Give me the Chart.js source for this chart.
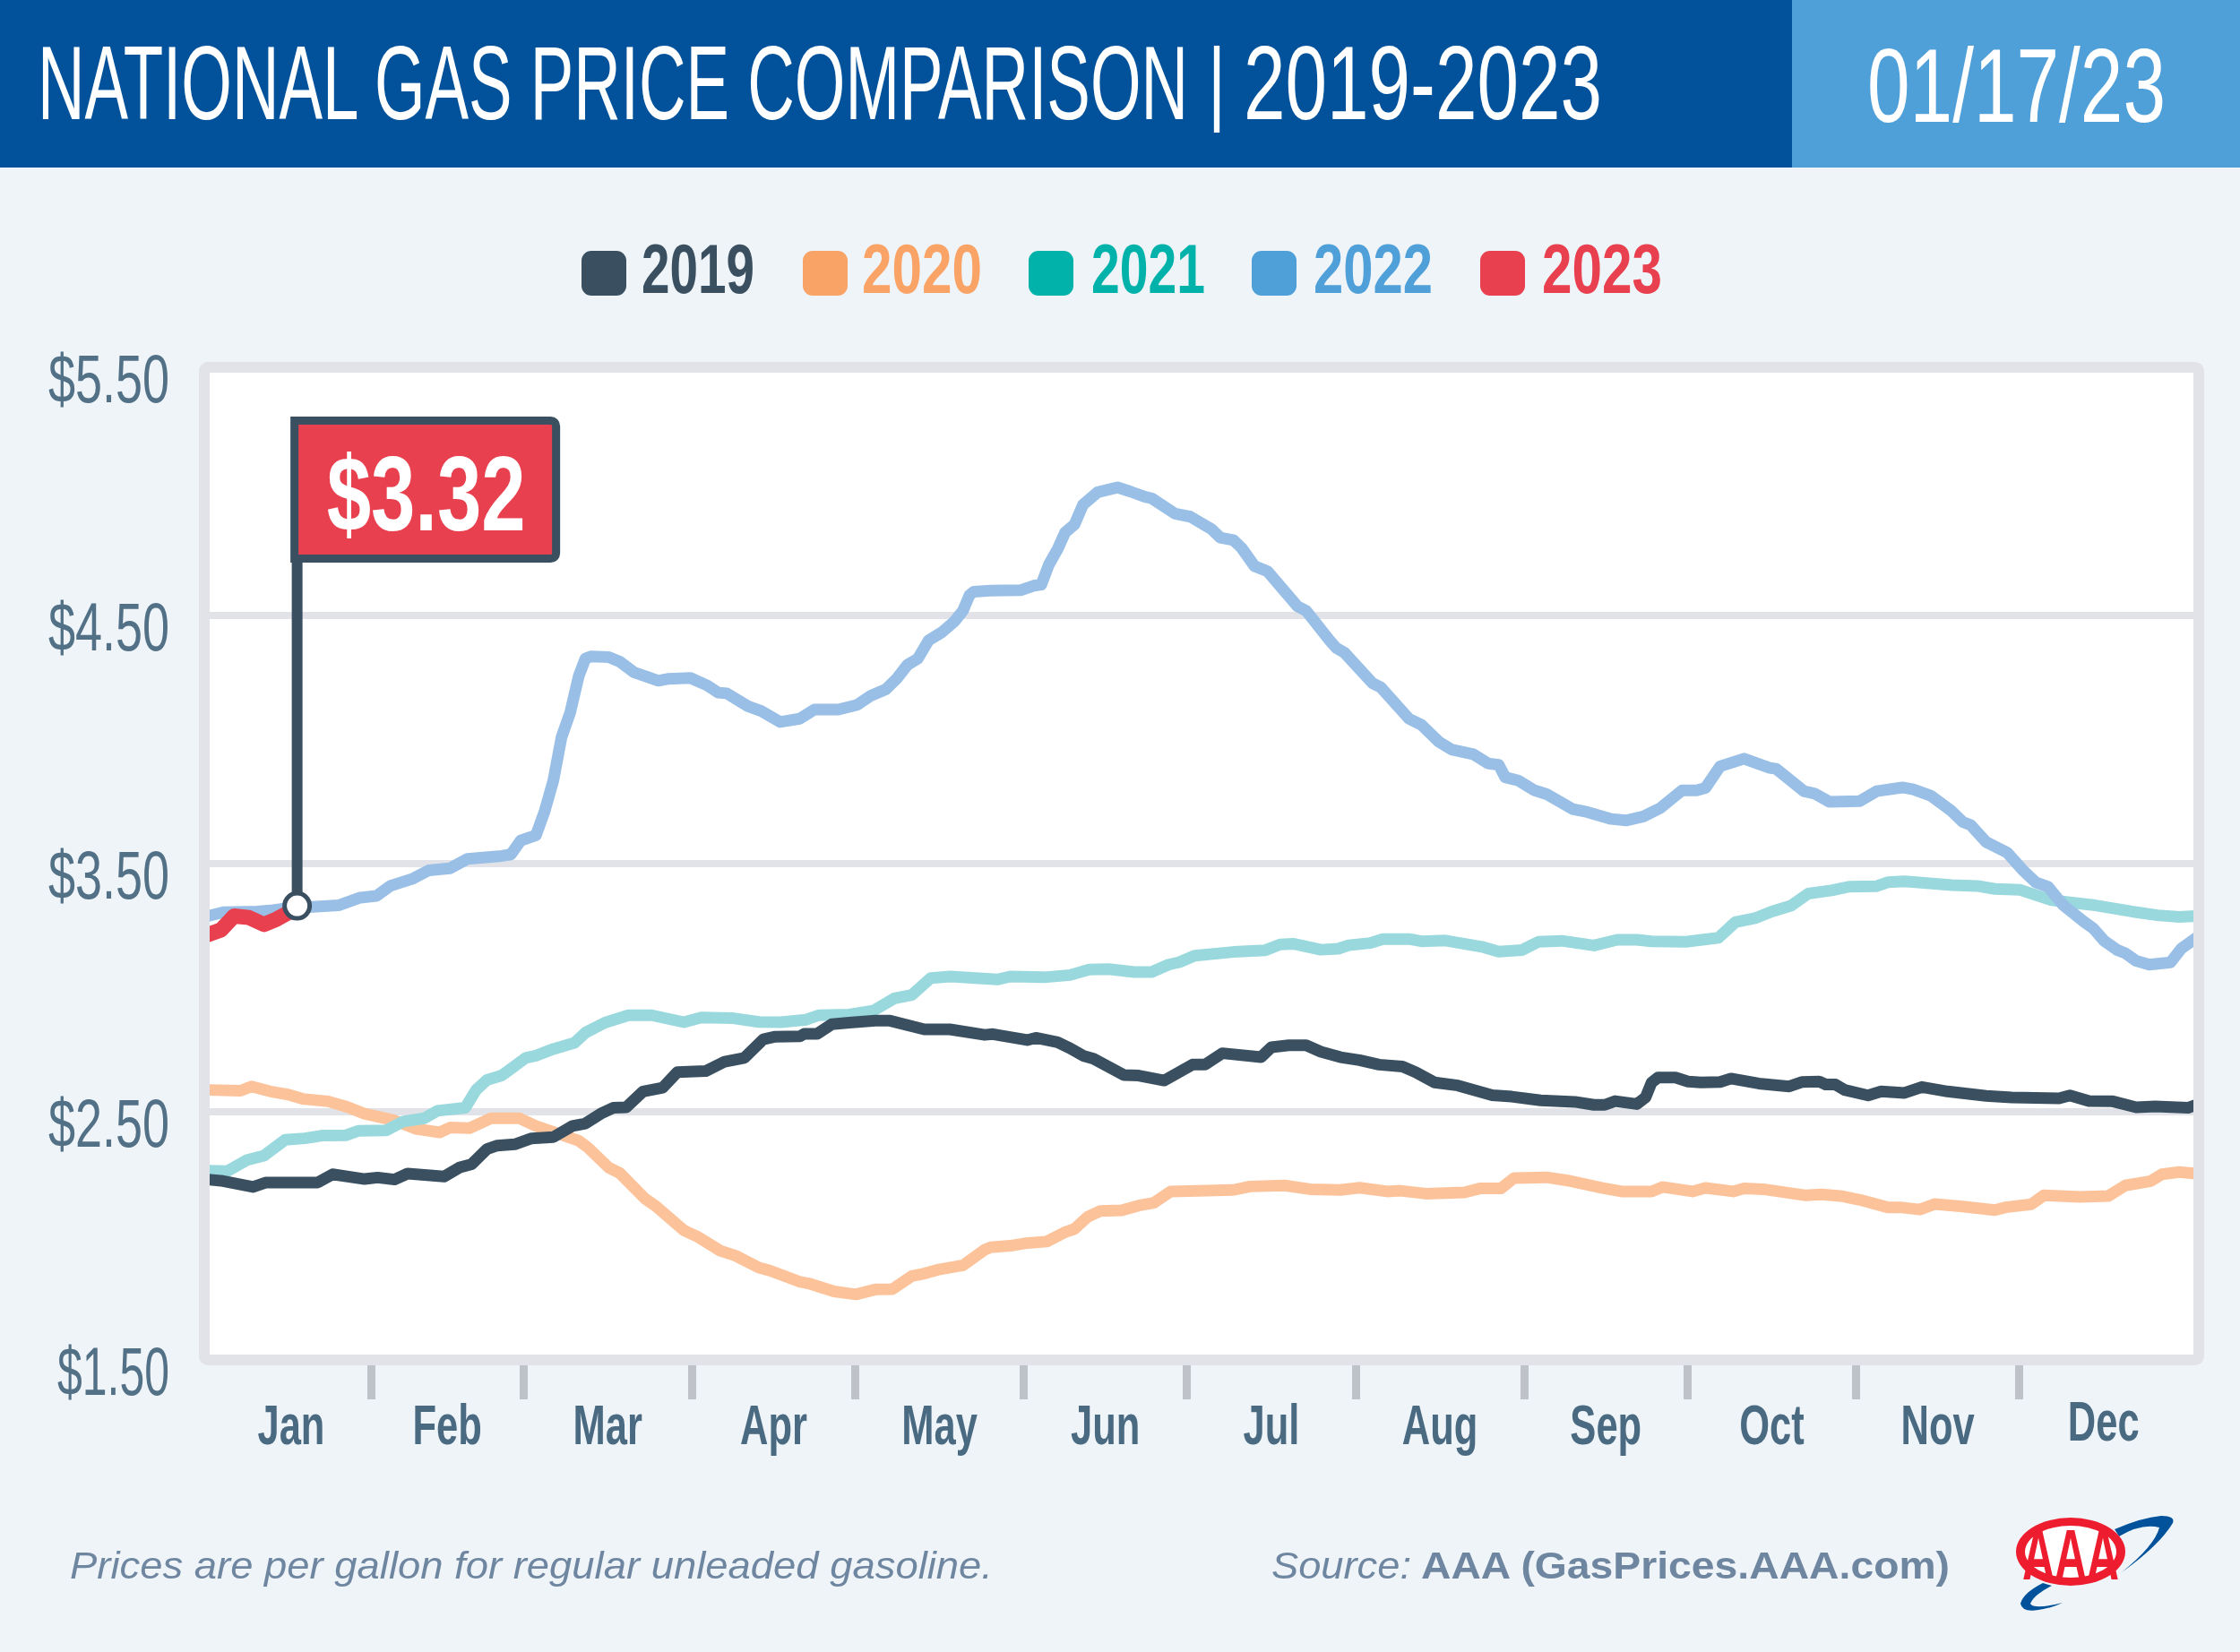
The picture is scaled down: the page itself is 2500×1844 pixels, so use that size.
<!DOCTYPE html>
<html lang="en">
  <head>
    <meta charset="UTF-8" />
    <title>National Gas Price Comparison 2019-2023</title>
    <script src="https://cdn.jsdelivr.net/npm/chart.js"></script>
    <style>
      html, body { margin: 0; padding: 0; background: #eff4f9; }
      #page { position: relative; width: 2500px; height: 1844px; overflow: hidden; }
      #headMain { position: absolute; left: 0; top: 0; width: 2000px; height: 187px; background: #01529b; }
      #headDate { position: absolute; left: 2000px; top: 0; width: 500px; height: 187px; background: #4f9fd9; }
      #priceChart { position: absolute; left: 0; top: 0; }
      .txt { position: absolute; white-space: nowrap; line-height: 1; transform-origin: left top; }
      .swatch { position: absolute; width: 50px; height: 50px; border-radius: 11px; top: 280px; }
      #logo { position: absolute; left: 0; top: 0; }
    </style>
  </head>
  <body>
    <div id="page">
      <div id="headMain"></div>
      <div id="headDate"></div>
      <canvas id="priceChart" width="2500" height="1844"></canvas>
      <svg id="logo" width="2500" height="1844" viewBox="0 0 2500 1844">
        <path fill="#01529b" d="M2360 1707 Q2390 1694 2412 1692 Q2428 1692 2425 1700 Q2410 1725 2368 1755 Q2405 1725 2410 1705 Q2390 1700 2365 1715 Z" />
        <path fill="#01529b" d="M2280 1767 Q2258 1778 2255 1790 Q2257 1800 2275 1797 Q2290 1795 2302 1789 Q2270 1797 2266 1790 Q2270 1780 2290 1770 Z" />
        <ellipse cx="2311" cy="1732" rx="61" ry="38" fill="#ed1c2e" />
        <ellipse cx="2311" cy="1732" rx="51" ry="29" fill="#ffffff" />
        <text x="2311" y="1763" text-anchor="middle" textLength="108" lengthAdjust="spacingAndGlyphs"
          font-family="Liberation Sans" font-weight="bold" font-size="80" fill="#ed1c2e">AAA</text>
      </svg>
    </div>

    <script>
      // day of year / price, one pair of lists per year
      const days2019 = [1,3.8,9.3,11.7,21.2,23.9,29.8,32.2,35.3,37.7,44.4,47.2,49.5,52.3,54.2,57.4,60.5,64.5,68,70.4,73.2,75.5,77.9,81,84.6,87.3,92.5,96,99.6,103.1,105.1,109.8,110.6,113,115.7,118.9,123.7,126.4,132.7,137.4,143.8,145.3,151.6,153.2,157.2,159.5,161.9,163.8,169.4,172.1,176.8,182,184.3,187.5,194.6,196.5,199.7,202.9,205.6,209.2,212.7,216.3,220.6,223,226.5,230.8,237.1,240.7,246,252.3,255.8,257.8,259.7,263.7,265.3,266.4,267.6,270.8,273.1,275.5,279,281,286.1,291.7,294,297.2,298.4,300.2,301.9,306.2,308.6,312.9,316.1,320.8,327.9,332.6,341.3,343.3,346.8,351.2,355.5,359,365,366.5];
      const prices2019 = [2.227,2.221,2.197,2.215,2.215,2.248,2.229,2.235,2.227,2.251,2.239,2.275,2.289,2.35,2.364,2.369,2.393,2.398,2.443,2.453,2.492,2.516,2.518,2.582,2.597,2.66,2.664,2.702,2.717,2.792,2.802,2.804,2.814,2.814,2.853,2.859,2.867,2.867,2.832,2.832,2.81,2.813,2.789,2.798,2.78,2.756,2.726,2.714,2.648,2.646,2.626,2.69,2.69,2.736,2.72,2.76,2.768,2.768,2.742,2.72,2.708,2.69,2.682,2.66,2.618,2.606,2.567,2.561,2.546,2.54,2.528,2.528,2.543,2.531,2.558,2.618,2.638,2.638,2.622,2.618,2.62,2.634,2.614,2.602,2.62,2.622,2.61,2.61,2.588,2.566,2.582,2.576,2.6,2.582,2.564,2.558,2.554,2.566,2.543,2.542,2.518,2.522,2.516,2.528];

      const days2020 = [1,7,9,12.5,15.6,18.4,23.1,26.7,29.8,35.3,39.3,43.6,45.6,49.1,53.1,58.2,61.3,69.2,70.8,74.7,76.7,81.4,83.4,88.5,90.9,95.2,98,102.3,104.3,109.8,111.8,116.1,120.1,123.7,126.8,130.4,132.7,135.1,139.8,143.8,144.9,148.5,151.2,155.2,158.7,160.3,162.7,165,169,172.1,174.9,178,189.5,192.6,198.9,203.6,209.2,212.7,217.8,220.2,224.9,232,234.8,238.7,241.1,247.1,251.5,257.4,260.9,266.4,268.4,273.9,276.3,281.4,283.4,286.9,294.8,297.6,301.1,304.7,309.8,312.1,315.7,318.4,323.2,329.5,331.5,336.2,338.5,345.2,350.4,353.5,358.2,360.2,363.4,366.5];
      const prices2020 = [2.588,2.585,2.602,2.582,2.57,2.552,2.542,2.519,2.492,2.465,2.431,2.417,2.437,2.434,2.474,2.474,2.443,2.383,2.357,2.275,2.253,2.149,2.119,2.022,1.998,1.94,1.92,1.872,1.86,1.815,1.806,1.776,1.764,1.784,1.785,1.838,1.848,1.863,1.881,1.944,1.954,1.96,1.97,1.977,2.016,2.028,2.076,2.1,2.103,2.122,2.133,2.179,2.185,2.199,2.203,2.188,2.185,2.194,2.179,2.182,2.17,2.175,2.191,2.191,2.233,2.236,2.221,2.193,2.179,2.179,2.197,2.179,2.193,2.179,2.191,2.188,2.163,2.167,2.161,2.145,2.115,2.115,2.106,2.128,2.119,2.104,2.115,2.127,2.163,2.157,2.161,2.203,2.221,2.248,2.257,2.251];

      const days2021 = [1,4.6,8.1,11.3,15.2,18.8,22,26.3,28.6,33.8,36.9,40.8,43.2,46.4,48.3,50.3,52.3,55,57,59.4,61.3,64.5,68.4,70.4,74,78.3,82.6,88.5,91.7,97.6,102.3,106.3,111,113.3,118.9,123.3,127.2,130.4,133.9,137.5,146.1,148.5,154.8,159.5,163,166.6,171.3,174.5,177.6,179.6,182.4,189.5,195.4,198.1,200.5,205.6,208.8,210.7,214.7,217,221.8,224.1,228.5,235.2,238.3,242.6,245.6,249.9,255.8,260.1,263.7,266.4,272.7,278.7,281.8,285.4,288.5,292,295.2,299.5,302.7,307.8,309.8,312.9,321.6,326.3,329.5,334.2,339.7,342.9,348,354.7,359.4,363.4,366.5];
      const prices2021 = [2.263,2.261,2.305,2.323,2.387,2.393,2.404,2.405,2.423,2.425,2.461,2.474,2.504,2.512,2.516,2.588,2.628,2.646,2.678,2.717,2.726,2.753,2.778,2.819,2.859,2.889,2.889,2.861,2.88,2.877,2.862,2.861,2.871,2.889,2.892,2.907,2.957,2.971,3.039,3.045,3.033,3.045,3.042,3.051,3.073,3.075,3.063,3.063,3.093,3.103,3.129,3.144,3.151,3.174,3.177,3.153,3.157,3.171,3.18,3.196,3.196,3.187,3.19,3.165,3.145,3.152,3.185,3.189,3.17,3.193,3.193,3.187,3.185,3.201,3.264,3.28,3.307,3.33,3.379,3.392,3.407,3.409,3.425,3.429,3.413,3.41,3.398,3.394,3.354,3.345,3.332,3.307,3.292,3.285,3.289];

      const days2022 = [1,3.8,10,12.5,15,20.3,25,29,32,34.5,38.5,41.6,45.5,48.7,55,56.7,58.5,61.3,62.9,64.5,66,67.6,69.2,70.4,71.5,74.7,76.7,79.4,81.8,83.8,85.7,89.7,92.8,94.8,96.4,100.3,102.7,106.2,109.8,112.5,116.9,120.4,122.9,125.6,127.6,129.6,131.5,133.5,135.9,138.2,139.8,141,141.8,144.9,150.5,152.8,154.2,155.6,157.2,158.6,160.3,161.9,164.6,168.2,170.5,173.3,174.5,178.8,181.6,185.5,187.1,189.5,191,193.4,195.8,200.1,201.3,202.9,207.2,208.4,209.9,215.1,216.6,221.8,224.1,227.3,229.6,233.6,236.3,238.3,239.5,241.9,244.8,247.1,251.9,254.6,259,261.7,264.9,268,272,274.7,276.3,279,283.4,288.1,289.3,294.4,296.4,299.1,304.7,307.8,312.5,314.5,317.7,321.6,323.6,325.1,327.9,331.8,334.6,337,339.3,342.1,346,347.6,349.6,352,353.5,355.5,357.9,361.8,363.8,366.5];
      const prices2022 = [3.289,3.304,3.307,3.311,3.319,3.326,3.332,3.363,3.37,3.41,3.438,3.473,3.481,3.519,3.531,3.537,3.593,3.614,3.711,3.835,4.009,4.109,4.258,4.326,4.335,4.332,4.314,4.27,4.252,4.237,4.245,4.248,4.218,4.189,4.186,4.134,4.115,4.071,4.084,4.121,4.121,4.14,4.177,4.202,4.245,4.301,4.326,4.4,4.432,4.475,4.519,4.581,4.596,4.6,4.602,4.62,4.624,4.705,4.767,4.835,4.866,4.947,4.997,5.016,5,4.978,4.972,4.91,4.898,4.848,4.814,4.804,4.773,4.699,4.678,4.568,4.537,4.519,4.4,4.37,4.351,4.227,4.211,4.084,4.059,3.991,3.96,3.941,3.904,3.898,3.848,3.835,3.796,3.78,3.72,3.708,3.68,3.674,3.69,3.724,3.795,3.795,3.805,3.892,3.923,3.886,3.882,3.792,3.782,3.749,3.752,3.792,3.807,3.799,3.774,3.711,3.668,3.655,3.587,3.544,3.475,3.425,3.407,3.332,3.264,3.239,3.189,3.152,3.139,3.108,3.093,3.102,3.158,3.2];

      const days2023 = [1,3.4,5.8,8.5,11.3,13.6,15.6,17.4];
      const prices2023 = [3.214,3.233,3.289,3.283,3.255,3.276,3.3,3.33];

      const years = ["2019", "2020", "2021", "2022", "2023"];
      const lineColors = ["#3a5060", "#fcc39b", "#99d8dc", "#99bfe6", "#e8404e"];
      const legendColors = ["#3a5060", "#faa366", "#00b2a9", "#4f9fd9", "#e8404e"];

      const monthNames = ["Jan", "Feb", "Mar", "Apr", "May", "Jun", "Jul", "Aug", "Sep", "Oct", "Nov", "Dec"];
      const monthEnds = [31, 59, 90, 120, 151, 181, 212, 243, 273, 304, 334, 365];
      const yTicks = [1.5, 2.5, 3.5, 4.5, 5.5];
      const yLabelWidths = [125, 135, 135, 135, 135];
      const flagLabel = "$3.32";

      const narrow = '"Liberation Sans Narrow", "Liberation Sans", sans-serif';
      const page = document.getElementById("page");

      // the original face is far more condensed than anything installed,
      // so text gets squeezed horizontally to the width it has in the picture
      function placeText(text, o) {
        const el = document.createElement("span");
        el.className = "txt";
        el.textContent = text;
        el.style.fontFamily = o.family || narrow;
        el.style.fontSize = o.size + "px";
        el.style.fontWeight = o.weight || "normal";
        el.style.fontStyle = o.style || "normal";
        el.style.color = o.color;
        el.style.left = o.left + "px";
        el.style.top = o.baseline - 0.8465 * o.size + "px";
        page.appendChild(el);
        const w = el.getBoundingClientRect().width;
        el.style.transform = "scaleX(" + o.width / w + ")";
      }

      placeText("NATIONAL GAS PRICE COMPARISON", { left: 42, baseline: 133, width: 1284, size: 116, color: "#fff" });
      placeText("|", { left: 1348, baseline: 126, width: 20, size: 104, color: "#fff" });
      placeText("2019-2023", { left: 1388, baseline: 133, width: 400, size: 116, color: "#fff" });
      placeText("01/17/23", { left: 2084, baseline: 136, width: 333, size: 116, color: "#fff" });

      const swatchLefts = [649, 896, 1148, 1397, 1652];
      const labelLefts = [716, 962, 1218, 1466, 1721];
      const labelWidths = [126, 134, 127, 133, 134];
      years.forEach((year, i) => {
        const sw = document.createElement("div");
        sw.className = "swatch";
        sw.style.left = swatchLefts[i] + "px";
        sw.style.background = legendColors[i];
        page.appendChild(sw);
        placeText(year, { left: labelLefts[i], baseline: 327, width: labelWidths[i], size: 78, weight: "bold", color: legendColors[i] });
      });

      const sans = '"Liberation Sans", sans-serif';
      placeText("Prices are per gallon for regular unleaded gasoline.", { left: 78, baseline: 1762, width: 1030, size: 43, style: "italic", family: sans, color: "#6e86a0" });
      placeText("Source:", { left: 1419, baseline: 1762, width: 156, size: 43, style: "italic", family: sans, color: "#6e86a0" });
      placeText("AAA (GasPrices.AAA.com)", { left: 1586, baseline: 1762, width: 590, size: 43, weight: "bold", family: sans, color: "#6e86a0" });

      function squeezedText(ctx, text, x, y, sx, align) {
        ctx.save();
        ctx.translate(x, y);
        ctx.scale(sx, 1);
        ctx.textAlign = align;
        ctx.textBaseline = "alphabetic";
        ctx.fillText(text, 0, 0);
        ctx.restore();
      }

      const chartDecor = {
        id: "chartDecor",
        beforeDraw(chart) {
          const a = chart.chartArea;
          chart.ctx.fillStyle = "#fff";
          chart.ctx.fillRect(a.left, a.top, a.right - a.left, a.bottom - a.top);
        },
        afterDatasetsDraw(chart) {
          const ctx = chart.ctx;
          const a = chart.chartArea;
          // plot frame
          ctx.save();
          ctx.strokeStyle = "#e1e3e8";
          ctx.lineWidth = 12;
          ctx.beginPath();
          ctx.roundRect(a.left, a.top, a.right - a.left, a.bottom - a.top, 4);
          ctx.stroke();
          ctx.restore();
        },
        afterDraw(chart) {
          const ctx = chart.ctx;
          const xs = chart.scales.x;
          const ys = chart.scales.y;

          // y labels
          ctx.save();
          ctx.fillStyle = "#527086";
          ctx.font = "76px " + narrow;
          ys.ticks.forEach((t, i) => {
            const sx = yLabelWidths[i] / ctx.measureText(t.label).width;
            squeezedText(ctx, t.label, 189, ys.getPixelForValue(t.value) + 39, sx, "right");
          });

          // month labels, centred between the tick marks
          ctx.fillStyle = "#4a6a82";
          ctx.font = "bold 63px " + narrow;
          const mSx = 75 / ctx.measureText("Jan").width;
          monthNames.forEach((m, i) => {
            const mid = i ? (monthEnds[i - 1] + monthEnds[i]) / 2 : 16.3;
            squeezedText(ctx, m, xs.getPixelForValue(mid), i === 11 ? 1608 : 1612, mSx, "center");
          });
          ctx.restore();

          // flag on the latest 2023 point
          const last = days2023.length - 1;
          const px = xs.getPixelForValue(days2023[last]);
          const py = ys.getPixelForValue(prices2023[last]);
          ctx.save();
          ctx.fillStyle = "#3a5060";
          ctx.fillRect(px - 6, 628, 12, py - 12 - 628);
          ctx.fillStyle = "#e8404e";
          ctx.strokeStyle = "#3a5060";
          ctx.lineWidth = 9;
          ctx.beginPath();
          ctx.roundRect(px - 3, 469.5, 292, 154, [0, 6, 6, 0]);
          ctx.fill();
          ctx.stroke();
          ctx.fillStyle = "#fff";
          ctx.font = "bold 118px " + narrow;
          const fSx = 222 / ctx.measureText(flagLabel).width;
          squeezedText(ctx, flagLabel, px + 144, 592, fSx, "center");
          ctx.restore();
        },
      };

      function series(i, days, prices, order, width) {
        return {
          label: years[i],
          data: days.map((d, k) => ({ x: d, y: prices[k] })),
          borderColor: lineColors[i],
          borderWidth: width,
          borderJoinStyle: "round",
          borderCapStyle: "round",
          tension: 0,
          order: order,
          pointRadius: 0,
        };
      }

      const data2023 = series(4, days2023, prices2023, 0, 17);
      data2023.pointRadius = (c) => (c.dataIndex === days2023.length - 1 ? 14 : 0);
      data2023.pointBackgroundColor = "#fff";
      data2023.pointBorderColor = "#3a5060";
      data2023.pointBorderWidth = 5;

      new Chart(document.getElementById("priceChart"), {
        type: "line",
        data: {
          datasets: [
            series(0, days2019, prices2019, 1, 13),
            series(1, days2020, prices2020, 4, 13),
            series(2, days2021, prices2021, 3, 13),
            series(3, days2022, prices2022, 2, 13),
            data2023,
          ],
        },
        plugins: [chartDecor],
        options: {
          responsive: false,
          animation: false,
          devicePixelRatio: 1,
          layout: { padding: { top: 410, right: 46, bottom: 0, left: 0 } },
          plugins: { legend: { display: false }, tooltip: { enabled: false } },
          scales: {
            x: {
              type: "linear",
              min: 0.33,
              max: 367,
              afterBuildTicks: (s) => {
                s.ticks = monthEnds.slice(0, 11).map((v) => ({ value: v }));
              },
              afterFit: (s) => {
                s.height = 326;
              },
              ticks: { display: false },
              border: { display: false },
              grid: {
                drawOnChartArea: false,
                drawTicks: true,
                tickLength: 44,
                tickWidth: 9,
                tickColor: "#bfc2c8",
              },
            },
            y: {
              min: 1.5,
              max: 5.5,
              afterBuildTicks: (s) => {
                s.ticks = yTicks.map((v) => ({ value: v }));
              },
              afterFit: (s) => {
                s.width = 228;
              },
              ticks: { display: false, callback: (v) => "$" + v.toFixed(2) },
              border: { display: false },
              grid: { color: "#e1e3e8", lineWidth: 8, drawTicks: false },
            },
          },
        },
      });
    </script>
  </body>
</html>
